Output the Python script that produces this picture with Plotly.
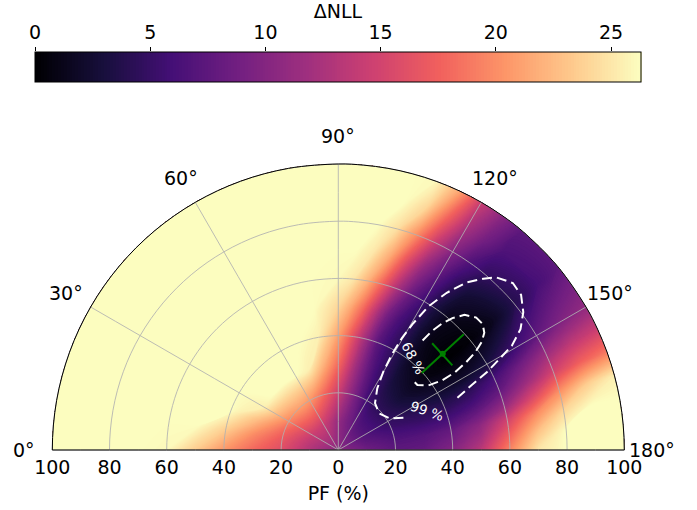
import numpy as np
import plotly.graph_objects as go

# ---- likelihood scan: ΔNLL on a (polarization angle, PF) grid ----
pf_grid = [0, 10, 20, 30, 40, 50, 60, 70, 80, 90, 100]
angle_grid = [0, 10, 20, 30, 40, 50, 60, 70, 80, 90, 95, 100, 105, 110, 115,
              120, 125, 130, 140, 150, 155, 160, 165, 170, 175, 180]

dnll_a000 = [10.5, 13.0, 16.0, 18.0, 20.5, 23.5, 26.0, 26.3, 26.3, 26.3, 26.3]
dnll_a010 = [10.5, 13.3, 16.8, 19.8, 23.5, 26.3, 26.3, 26.3, 26.3, 26.3, 26.3]
dnll_a020 = [10.5, 13.8, 18.0, 22.5, 26.3, 26.3, 26.3, 26.3, 26.3, 26.3, 26.3]
dnll_a030 = [10.5, 14.2, 19.5, 25.5, 26.3, 26.3, 26.3, 26.3, 26.3, 26.3, 26.3]
dnll_a040 = [10.5, 14.5, 20.5, 26.3, 26.3, 26.3, 26.3, 26.3, 26.3, 26.3, 26.3]
dnll_a050 = [10.5, 14.5, 21.0, 26.3, 26.3, 26.3, 26.3, 26.3, 26.3, 26.3, 26.3]
dnll_a060 = [10.5, 14.2, 20.5, 26.3, 26.3, 26.3, 26.3, 26.3, 26.3, 26.3, 26.3]
dnll_a070 = [10.5, 13.5, 19.0, 25.5, 26.3, 26.3, 26.3, 26.3, 26.3, 26.3, 26.3]
dnll_a080 = [10.5, 12.5, 17.0, 22.0, 25.5, 26.3, 26.3, 26.3, 26.3, 26.3, 26.3]
dnll_a090 = [10.5, 11.2, 14.5, 18.0, 21.0, 24.0, 26.0, 26.3, 26.3, 26.3, 26.3]
dnll_a095 = [10.5, 10.5, 13.0, 15.5, 18.0, 21.5, 25.0, 26.3, 26.3, 26.3, 26.3]
dnll_a100 = [10.5, 10.0, 11.5, 12.8, 14.5, 18.0, 22.0, 25.0, 26.3, 26.3, 26.3]
dnll_a105 = [10.5, 9.5, 10.0, 10.3, 11.0, 13.5, 17.5, 21.5, 24.5, 26.3, 26.3]
dnll_a110 = [10.5, 9.0, 8.5, 8.0, 7.5, 9.0, 12.5, 16.0, 20.0, 24.0, 26.0]
dnll_a115 = [10.5, 8.6, 7.2, 6.2, 5.7, 6.3, 8.3, 11.0, 14.5, 18.0, 21.5]
dnll_a120 = [10.5, 8.0, 5.8, 4.9, 4.4, 4.6, 5.6, 7.5, 10.0, 12.5, 14.5]
dnll_a125 = [10.5, 7.6, 5.1, 3.8, 2.9, 2.5, 3.0, 4.6, 6.8, 9.0, 10.5]
dnll_a130 = [10.5, 7.2, 4.6, 2.9, 1.6, 1.0, 1.3, 2.6, 4.8, 6.5, 7.5]
dnll_a140 = [10.5, 7.0, 4.5, 2.3, 0.75, 0.05, 0.35, 1.45, 3.9, 6.0, 7.5]
dnll_a150 = [10.5, 7.0, 4.9, 3.4, 2.4, 2.1, 3.2, 5.4, 7.8, 9.8, 11.0]
dnll_a155 = [10.5, 7.2, 5.2, 4.3, 3.6, 4.2, 6.0, 8.7, 11.5, 13.5, 14.5]
dnll_a160 = [10.5, 7.4, 5.8, 5.0, 4.9, 5.8, 8.0, 11.5, 15.0, 17.5, 19.0]
dnll_a165 = [10.5, 7.7, 6.3, 6.0, 6.3, 8.0, 11.0, 15.5, 20.0, 23.5, 25.5]
dnll_a170 = [10.5, 8.0, 6.8, 7.0, 8.0, 10.5, 15.0, 20.0, 24.0, 26.3, 26.3]
dnll_a175 = [10.5, 8.3, 7.2, 7.5, 9.0, 12.0, 17.5, 23.0, 26.3, 26.3, 26.3]
dnll_a180 = [10.5, 8.5, 7.5, 8.0, 10.0, 13.5, 19.5, 25.0, 26.3, 26.3, 26.3]

dnll_rows = [dnll_a000, dnll_a010, dnll_a020, dnll_a030, dnll_a040, dnll_a050,
             dnll_a060, dnll_a070, dnll_a080, dnll_a090, dnll_a095, dnll_a100,
             dnll_a105, dnll_a110, dnll_a115, dnll_a120, dnll_a125, dnll_a130,
             dnll_a140, dnll_a150, dnll_a155, dnll_a160, dnll_a165, dnll_a170,
             dnll_a175, dnll_a180]
dnll_max = 26.3

# ---- confidence contours (PF %, angle deg) ----
c68_pf = [48.3, 52.7, 57.0, 61.0, 64.7, 66.9, 67.0, 65.5, 62.8, 58.9, 54.3, 49.1, 43.7, 38.8, 35.8, 35.7]
c68_angle = [127.7, 128.3, 129.4, 131.0, 133.3, 136.3, 138.9, 141.2, 142.9, 144.3, 145.3, 146.1, 145.9, 144.2, 140.6, 136.7]
c99_pf = [25.4, 21.2, 19.2, 20.8, 25.5, 31.6, 38.1, 44.9, 51.5, 59.2, 66.8, 73.7, 78.5, 81.8,
          84.5, 83.8, 80.7, 76.5, 70.9, 65.0, 58.7, 51.9, 44.4]
c99_angle = [153.6, 148.5, 138.2, 128.2, 122.3, 119.9, 119.3, 119.6, 120.6, 122.1, 124.6, 127.5, 130.3, 132.6,
             136.4, 139.7, 143.2, 146.2, 148.8, 150.4, 152.2, 154.0, 156.8]
cl_text = ["68 %", "99 %"]
cl_pf = [41.4, 34.0]
cl_angle = [129.2, 156.3]
cl_rot = [62, 19]

# ---- best fit with uncertainties ----
best_pf = 49.7
best_angle = 137.4
err_pf = 10.0
err_angle = 5.9

# ---- axes ----
angle_ticks = [0, 30, 60, 90, 120, 150, 180]
pf_ticks = [0, 20, 40, 60, 80, 100]
cbar_ticks = [0, 5, 10, 15, 20, 25]

FONT = "DejaVu Sans"
FS = 19
GRID = "rgba(176,176,176,0.85)"

W, H = 697, 510
CB_LEFT, CB_RIGHT, CB_TOP, CB_BOTTOM = 35, 641, 52, 82
ORIGIN_X, ORIGIN_Y, RIM_PX = 338.3, 450, 286.0


def to_xy(pf, ang):
    """0 deg on the left, 180 deg on the right, 90 deg at the top."""
    t = np.deg2rad(np.asarray(ang, dtype=float))
    r = np.asarray(pf, dtype=float)
    return -r * np.cos(t), r * np.sin(t)


A, B = np.meshgrid(pf_grid, angle_grid)
X, Y = to_xy(A, B)
Z = np.array(dnll_rows)

fig = go.Figure()

fig.add_trace(go.Carpet(
    carpet="scan", a=pf_grid, b=angle_grid, x=X.tolist(), y=Y.tolist(),
    aaxis=dict(tickmode="linear", tick0=0, dtick=20, showgrid=True,
               gridcolor=GRID, gridwidth=1, showticklabels="none",
               startline=False, endline=True, endlinecolor="black",
               endlinewidth=1, minorgridcount=0, smoothing=1, showline=False),
    baxis=dict(tickmode="linear", tick0=0, dtick=30, showgrid=True,
               gridcolor=GRID, gridwidth=1, showticklabels="none",
               startline=True, endline=True, startlinecolor="black",
               endlinecolor="black", startlinewidth=1, endlinewidth=1,
               minorgridcount=0, smoothing=1, showline=False),
))

fig.add_trace(go.Contourcarpet(
    carpet="scan", a=pf_grid, b=angle_grid, z=Z.tolist(),
    autocontour=False,
    contours=dict(start=0.125, end=dnll_max, size=0.125, coloring="fill",
                  showlines=False),
    line=dict(width=0),
    colorscale="Magma", zmin=0, zmax=dnll_max,
    colorbar=dict(
        orientation="h", x=(CB_LEFT + CB_RIGHT) / 2 / W, xanchor="center",
        y=1 - CB_TOP / H, yanchor="top", len=(CB_RIGHT - CB_LEFT) / W,
        lenmode="fraction", thickness=CB_BOTTOM - CB_TOP,
        thicknessmode="pixels", xpad=0, ypad=0,
        outlinewidth=1, outlinecolor="black",
        ticks="", showticklabels=False,
    ),
))

# confidence contours
fig.add_trace(go.Scattercarpet(
    carpet="scan", a=c99_pf, b=c99_angle, mode="lines",
    line=dict(color="white", width=2, dash="10px,5px"), hoverinfo="skip"))
fig.add_trace(go.Scattercarpet(
    carpet="scan", a=c68_pf, b=c68_angle, mode="lines",
    line=dict(color="white", width=2, dash="10px,5px"), hoverinfo="skip"))

# best fit cross
fig.add_trace(go.Scattercarpet(
    carpet="scan", a=[best_pf - err_pf, best_pf + err_pf],
    b=[best_angle, best_angle], mode="lines",
    line=dict(color="green", width=2)))
fig.add_trace(go.Scattercarpet(
    carpet="scan", a=[best_pf, best_pf],
    b=[best_angle - err_angle, best_angle + err_angle], mode="lines",
    line=dict(color="green", width=2)))
fig.add_trace(go.Scattercarpet(
    carpet="scan", a=[best_pf], b=[best_angle], mode="markers",
    marker=dict(color="green", size=6)))

# colour-scale axis drawn along the top edge of the colour bar
fig.add_trace(go.Scatter(
    x=[0, dnll_max], y=[0.5, 0.5], xaxis="x2", yaxis="y2", mode="markers",
    marker=dict(opacity=0), hoverinfo="skip"))

annotations = []
# angle tick labels outside the rim
lx, ly = to_xy([109.8] * len(angle_ticks), angle_ticks)
for ang, xx, yy in zip(angle_ticks, lx, ly):
    annotations.append(dict(x=xx, y=yy, text=f"{ang}°", showarrow=False,
                            xanchor="center", yanchor="middle",
                            font=dict(family=FONT, size=FS, color="black")))
# contour labels
tx, ty = to_xy(cl_pf, cl_angle)
for txt, xx, yy, rot in zip(cl_text, tx, ty, cl_rot):
    annotations.append(dict(x=xx, y=yy, text=txt, showarrow=False,
                            textangle=rot, xanchor="center", yanchor="middle",
                            font=dict(family=FONT, size=13.5, color="white")))

# pixel scale of the PF axis; the x domain is centred on the pole so the
# axis title sits under PF = 0
scale = RIM_PX / 100.0
dom_px = 2 * ORIGIN_X
x0 = -ORIGIN_X / scale
y0 = -(H - ORIGIN_Y) / scale

pf_tickvals = [-v for v in pf_ticks[::-1]] + pf_ticks[1:]
pf_ticktext = [str(v) for v in pf_ticks[::-1]] + [str(v) for v in pf_ticks[1:]]

fig.update_layout(
    width=W, height=H,
    margin=dict(l=0, r=0, t=0, b=0, autoexpand=False),
    paper_bgcolor="white", plot_bgcolor="rgba(0,0,0,0)", showlegend=False,
    font=dict(family=FONT, size=FS, color="black"),
    xaxis=dict(range=[x0, x0 + dom_px / scale], domain=[0, dom_px / W],
               automargin=False, anchor="free", position=(H - ORIGIN_Y) / H,
               showgrid=False, zeroline=False, showline=False,
               tickmode="array", tickvals=pf_tickvals, ticktext=pf_ticktext,
               ticks="", ticklabelstandoff=4,
               tickfont=dict(family=FONT, size=FS),
               title=dict(text="PF (%)", standoff=9,
                          font=dict(family=FONT, size=FS))),
    yaxis=dict(range=[y0, y0 + H / scale], domain=[0, 1], visible=False,
               automargin=False),
    xaxis2=dict(range=[0, dnll_max], domain=[CB_LEFT / W, CB_RIGHT / W],
                anchor="y2", side="top", showgrid=False, zeroline=False,
                showline=False, tickmode="array", tickvals=cbar_ticks,
                automargin=False,
                ticks="outside", ticklen=4, tickwidth=1, tickcolor="black",
                ticklabelstandoff=0,
                tickfont=dict(family=FONT, size=FS),
                title=dict(text="ΔNLL", standoff=7,
                           font=dict(family=FONT, size=FS))),
    yaxis2=dict(range=[0, 1], domain=[1 - CB_BOTTOM / H, 1 - CB_TOP / H],
                anchor="x2", visible=False, fixedrange=True,
                automargin=False),
    annotations=annotations,
)

fig.write_html("out.html")
